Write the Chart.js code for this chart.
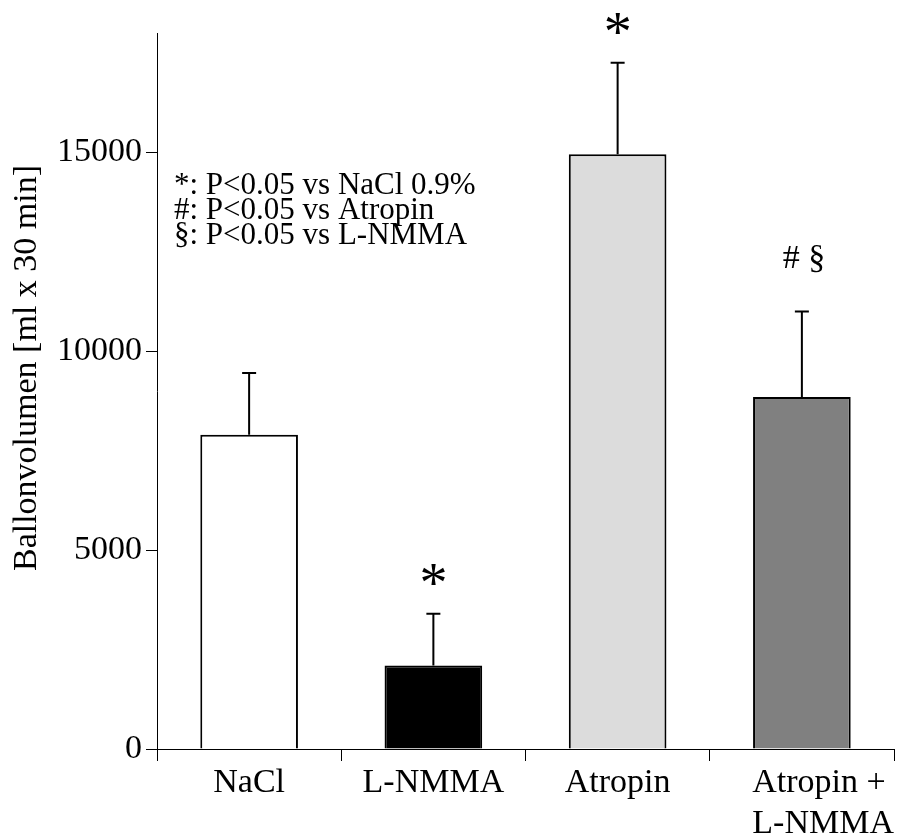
<!DOCTYPE html>
<html>
<head>
<meta charset="utf-8">
<script src="https://cdn.jsdelivr.net/npm/chart.js@4/dist/chart.umd.min.js"></script>
<style>
html,body{margin:0;padding:0;background:#fff;}
#wrap{width:909px;height:837px;}
</style>
</head>
<body>
<div id="wrap"><canvas id="c" width="909" height="837"></canvas></div>
<script>
const categories = ["NaCl", "L-NMMA", "Atropin", ["Atropin +", "L-NMMA"]];
const means = [7900, 2100, 14950, 8850];
const errors = [1550, 1300, 2300, 2150];
const barColors = ["#ffffff", "#000000", "#dcdcdc", "#808080"];
const yTicks = [0, 5000, 10000, 15000];
const sigMarks = ["", "*", "*", "# §"];
const legendLines = ["*: P<0.05 vs NaCl 0.9%", "#: P<0.05 vs Atropin", "§: P<0.05 vs L-NMMA"];
const yTitle = "Ballonvolumen [ml x 30 min]";

const FONT = "'Liberation Serif', 'Times New Roman', serif";

const extras = {
  id: 'extras',
  afterDatasetsDraw(chart) {
    const ctx = chart.ctx;
    const xs = chart.scales.x, ys = chart.scales.y;
    ctx.save();
    // error bars (upper only, with cap)
    ctx.strokeStyle = '#000';
    ctx.lineWidth = 2;
    means.forEach((m, i) => {
      const x = xs.getPixelForValue(i);
      const y0 = ys.getPixelForValue(m);
      const y1 = ys.getPixelForValue(m + errors[i]);
      ctx.beginPath();
      ctx.moveTo(x, y0);
      ctx.lineTo(x, y1);
      ctx.moveTo(x - 7, y1);
      ctx.lineTo(x + 7, y1);
      ctx.stroke();
    });
    // significance marks
    ctx.fillStyle = '#000';
    ctx.textAlign = 'center';
    ctx.textBaseline = 'alphabetic';
    sigMarks.forEach((s, i) => {
      if (!s) return;
      const x = xs.getPixelForValue(i);
      const yTop = ys.getPixelForValue(means[i] + errors[i]);
      if (s === '*') {
        ctx.font = '56px ' + FONT;
        ctx.fillText(s, x, yTop - 12);
      } else {
        ctx.font = '34px ' + FONT;
        ctx.fillText(s, x + 2, yTop - 43);
      }
    });
    // legend text
    ctx.textAlign = 'left';
    ctx.font = '31px ' + FONT;
    legendLines.forEach((t, k) => {
      ctx.fillText(t, 174, 194 + k * 25);
    });
    // y title
    ctx.save();
    ctx.translate(36, 368);
    ctx.rotate(-Math.PI / 2);
    ctx.textAlign = 'center';
    ctx.textBaseline = 'alphabetic';
    ctx.font = '34px ' + FONT;
    ctx.fillText(yTitle, 0, 0);
    ctx.restore();
    ctx.restore();
  }
};

new Chart(document.getElementById('c'), {
  type: 'bar',
  data: {
    labels: categories,
    datasets: [{
      data: means,
      backgroundColor: barColors,
      borderColor: '#000',
      borderWidth: 2,
      borderSkipped: 'start',
      categoryPercentage: 1.0,
      barPercentage: 0.53
    }]
  },
  options: {
    responsive: false,
    animation: false,
    devicePixelRatio: 1,
    layout: { padding: { left: 0, top: 33, right: 15, bottom: 0 } },
    plugins: { legend: { display: false }, tooltip: { enabled: false }, title: { display: false } },
    scales: {
      x: {
        offset: true,
        grid: { display: true, offset: true, drawOnChartArea: false, drawTicks: true, tickLength: 12, color: '#000', lineWidth: 1 },
        border: { display: true, color: '#000', width: 1 },
        ticks: {
          color: '#000',
          font: { family: FONT, size: 34, lineHeight: 1.2 },
          padding: 2,
          maxRotation: 0,
          minRotation: 0,
          autoSkip: false,
          callback: function (v, i) {
            const lab = this.getLabelForValue(v);
            if (Array.isArray(lab)) {
              return ['    ' + lab[0], '     ' + lab[1]];
            }
            return lab;
          }
        },
        afterFit(scale) { scale.height = 88; }
      },
      y: {
        min: 0,
        max: 18000,
        afterBuildTicks(scale) { scale.ticks = yTicks.map(v => ({ value: v })); },
        grid: { display: true, drawOnChartArea: false, drawTicks: true, tickLength: 11, color: '#000', lineWidth: 1 },
        border: { display: true, color: '#000', width: 1 },
        ticks: {
          color: '#000',
          font: { family: FONT, size: 34 },
          padding: 4,
          callback: (v) => String(v)
        },
        afterFit(scale) { scale.width = 157; }
      }
    }
  },
  plugins: [extras]
});
</script>
</body>
</html>
